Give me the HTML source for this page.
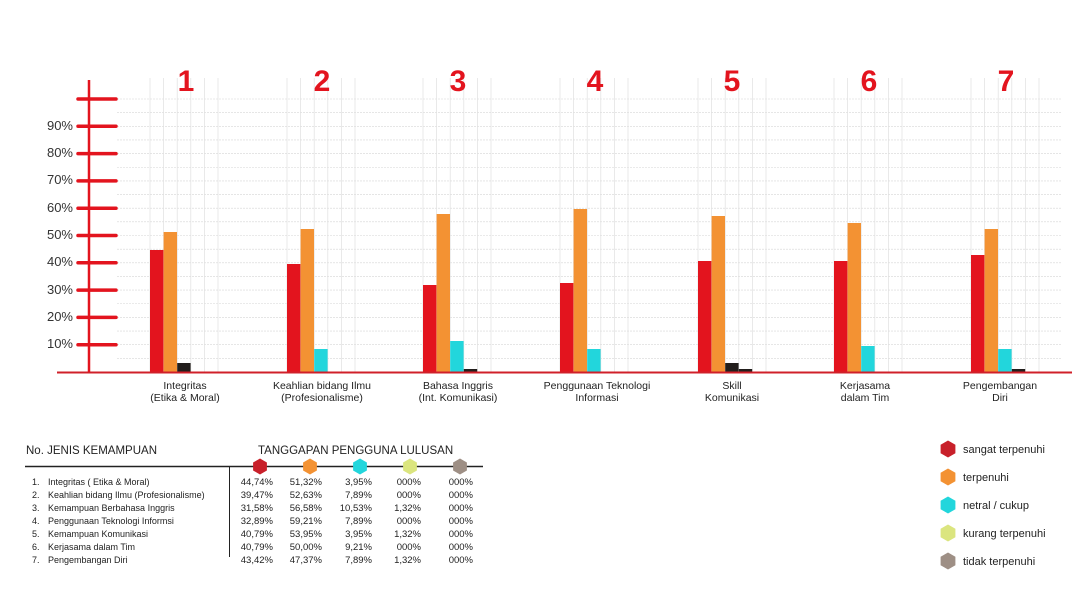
<!DOCTYPE html>
<html><head><meta charset="utf-8"><style>
body{margin:0;background:#fff;}
svg{display:block;font-family:"Liberation Sans",sans-serif;}
</style></head><body>
<svg id="s" width="1092" height="592" viewBox="0 0 1092 592">
<g id="grid"></g>
<g id="bars"></g>
<line x1="57" y1="372.5" x2="1072" y2="372.5" stroke="#d0202a" stroke-width="2"/>
<line x1="89" y1="80" x2="89" y2="372" stroke="#e3141e" stroke-width="2.5"/>
<g id="ticks" stroke="#e3141e" stroke-width="3.5" stroke-linecap="round"></g>
<g font-size="13" fill="#333" text-anchor="end">
<text x="73" y="130">90%</text><text x="73" y="157">80%</text><text x="73" y="184">70%</text>
<text x="73" y="212">60%</text><text x="73" y="239">50%</text><text x="73" y="266">40%</text>
<text x="73" y="294">30%</text><text x="73" y="321">20%</text><text x="73" y="348">10%</text>
</g>
<g font-size="30" font-weight="bold" fill="#e3141e" text-anchor="middle">
<text x="186" y="91">1</text><text x="322" y="91">2</text><text x="458" y="91">3</text>
<text x="595" y="91">4</text><text x="732" y="91">5</text><text x="869" y="91">6</text><text x="1006" y="91">7</text>
</g>
<g font-size="10.5" fill="#222" text-anchor="middle">
<text x="185" y="389">Integritas</text><text x="185" y="401">(Etika &amp; Moral)</text>
<text x="322" y="389">Keahlian bidang Ilmu</text><text x="322" y="401">(Profesionalisme)</text>
<text x="458" y="389">Bahasa Inggris</text><text x="458" y="401">(Int. Komunikasi)</text>
<text x="597" y="389">Penggunaan Teknologi</text><text x="597" y="401">Informasi</text>
<text x="732" y="389">Skill</text><text x="732" y="401">Komunikasi</text>
<text x="865" y="389">Kerjasama</text><text x="865" y="401">dalam Tim</text>
<text x="1000" y="389">Pengembangan</text><text x="1000" y="401">Diri</text>
</g>
<g font-size="11.5" fill="#222">
<text x="26" y="454">No.  JENIS KEMAMPUAN</text>
<text x="258" y="454">TANGGAPAN PENGGUNA LULUSAN</text>
</g>
<line x1="25" y1="466.5" x2="483" y2="466.5" stroke="#222" stroke-width="1.5"/>
<line x1="229.5" y1="467" x2="229.5" y2="557" stroke="#222" stroke-width="1"/>
<g id="hexs"></g>
<g font-size="9" fill="#222" id="rows">
<text x="32" y="485">1.</text><text x="48" y="485">Integritas ( Etika &amp; Moral)</text>
<text x="32" y="498">2.</text><text x="48" y="498">Keahlian bidang Ilmu (Profesionalisme)</text>
<text x="32" y="511">3.</text><text x="48" y="511">Kemampuan Berbahasa Inggris</text>
<text x="32" y="524">4.</text><text x="48" y="524">Penggunaan Teknologi Informsi</text>
<text x="32" y="537">5.</text><text x="48" y="537">Kemampuan Komunikasi</text>
<text x="32" y="550">6.</text><text x="48" y="550">Kerjasama dalam Tim</text>
<text x="32" y="563">7.</text><text x="48" y="563">Pengembangan Diri</text>
</g>
<g font-size="9.5" fill="#222" text-anchor="end">
<text x="273" y="485">44,74%</text><text x="322" y="485">51,32%</text><text x="372" y="485">3,95%</text><text x="421" y="485">000%</text><text x="473" y="485">000%</text>
<text x="273" y="498">39,47%</text><text x="322" y="498">52,63%</text><text x="372" y="498">7,89%</text><text x="421" y="498">000%</text><text x="473" y="498">000%</text>
<text x="273" y="511">31,58%</text><text x="322" y="511">56,58%</text><text x="372" y="511">10,53%</text><text x="421" y="511">1,32%</text><text x="473" y="511">000%</text>
<text x="273" y="524">32,89%</text><text x="322" y="524">59,21%</text><text x="372" y="524">7,89%</text><text x="421" y="524">000%</text><text x="473" y="524">000%</text>
<text x="273" y="537">40,79%</text><text x="322" y="537">53,95%</text><text x="372" y="537">3,95%</text><text x="421" y="537">1,32%</text><text x="473" y="537">000%</text>
<text x="273" y="550">40,79%</text><text x="322" y="550">50,00%</text><text x="372" y="550">9,21%</text><text x="421" y="550">000%</text><text x="473" y="550">000%</text>
<text x="273" y="563">43,42%</text><text x="322" y="563">47,37%</text><text x="372" y="563">7,89%</text><text x="421" y="563">1,32%</text><text x="473" y="563">000%</text>
</g>
<g font-size="11" fill="#222">
<text x="963" y="453">sangat terpenuhi</text>
<text x="963" y="481">terpenuhi</text>
<text x="963" y="509">netral / cukup</text>
<text x="963" y="537">kurang terpenuhi</text>
<text x="963" y="565">tidak terpenuhi</text>
</g>
</svg>
<script>
var NS="http://www.w3.org/2000/svg";
function el(p,t,a){var e=document.createElementNS(NS,t);for(var k in a)e.setAttribute(k,a[k]);document.getElementById(p).appendChild(e);return e;}
for(var i=1;i<=20;i++){var y=372-i*13.65;el("grid","line",{x1:117,x2:1062,y1:y,y2:y,stroke:"#d6d6d6","stroke-width":0.6,"stroke-dasharray":"2 1"});}
var G=[150,287,423,560,698,834,971];
G.forEach(function(g){for(var j=0;j<6;j++){var x=g+j*13.6;el("grid","line",{x1:x,x2:x,y1:78,y2:372,stroke:"#e0e0e0","stroke-width":0.7});}});
for(var i=1;i<=10;i++){var y=372-i*27.3;el("ticks","line",{x1:78,x2:116,y1:y,y2:y});}
var C=["#e3141e","#f39233","#22d6dc","#221e1c"];
var tops=[[250,232,363,null],[264,229,349,null],[285,214,341,369],[283,209,349,null],[261,216,363,369],[261,223,346,null],[255,229,349,369]];
tops.forEach(function(t,gi){t.forEach(function(y,j){if(y==null)return;var c=C[j];if(j==2&&(gi==0||gi==4))c="#221e1c";
el("bars","rect",{x:G[gi]+j*13.6,y:y,width:13.4,height:372-y,fill:c});});});
function hex(p,cx,cy,r,f){var pts=[];for(var k=0;k<6;k++){var a=Math.PI/6+k*Math.PI/3;pts.push((cx+r*Math.cos(a)).toFixed(1)+","+(cy+r*Math.sin(a)).toFixed(1));}el(p,"polygon",{points:pts.join(" "),fill:f});}
var HC=["#c8202a","#f39233","#22d6dc","#dbe57f","#9e8f85"];
HC.forEach(function(c,k){hex("hexs",260+k*50,466.5,8,c);hex("hexs",948,449+k*28,8.5,c);});
</script>
</body></html>
